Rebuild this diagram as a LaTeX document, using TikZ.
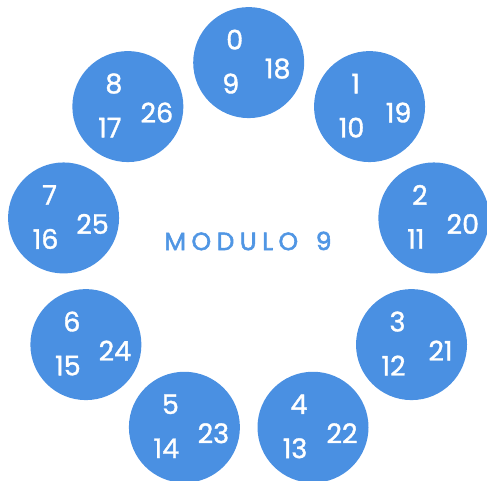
\documentclass[tikz,border=0pt]{standalone}
\usepackage{fontspec}
\setmainfont{Poppins}
\newfontfamily\numf{Poppins}[FakeBold=1.3]
\newfontfamily\titf{Poppins}[FakeBold=2.2]
\usetikzlibrary{calc}
\definecolor{cblue}{RGB}{74,144,226}
\definecolor{tblue}{RGB}{80,150,228}
\begin{document}
\begin{tikzpicture}[x=1pt,y=1pt,
  disc/.style={circle,fill=cblue,minimum size=111pt,inner sep=0pt},
  num/.style={text=white,font=\numf\fontsize{27}{27}\selectfont,inner sep=0pt,anchor=center},
  title/.style={text=tblue,font=\titf\fontsize{25}{25}\selectfont,inner sep=0pt}]
\useasboundingbox (0,0) rectangle (487,481);
\coordinate (c) at (248.7,230.4);
\foreach \i in {0,...,8}{
  \pgfmathsetmacro\ang{90-40*\i}
  \pgfmathtruncatemacro\b{\i+9}
  \pgfmathtruncatemacro\r{\i+18}
  \node[disc] (d\i) at ($(c)+(\ang:188)$) {};
  \node[num] (t\i) at ($(d\i)+(-14,23)$) {\i};
  \node[num] (r\i) at ($(d\i)+(29,-6)$) {\r};
  \node[num] (b\i) at ($(d\i)+(-18,-21)$) {\b};
}
\node[title] (mod) at (248,240) {M\kern5.5pt O\kern5.5pt D\kern5.5pt U\kern5.5pt L\kern5.5pt O\kern5.5pt\ \kern5.5pt 9};
\end{tikzpicture}
\end{document}
